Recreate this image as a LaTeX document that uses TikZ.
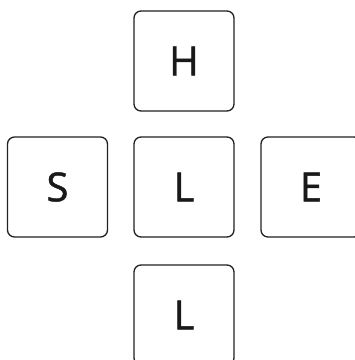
\documentclass[tikz,border=0pt]{standalone}
\usepackage{fontspec}
\newfontfamily\keyfont{Open Sans}[FakeBold=1.2]
\begin{document}
\begin{tikzpicture}[x=1pt,y=-1pt,
  keybox/.style={draw=black!87, line width=1.3pt, rounded corners=7pt,
    minimum width=100pt, minimum height=100pt, inner sep=0pt,
    font=\keyfont\fontsize{40}{40}\selectfont, text=black!90}]
\useasboundingbox (0,0) rectangle (355,360);
\clip (0,0) rectangle (355,360);
\node[keybox] (h) at (184,61) {H};
\node[keybox] (s) at (57.5,187) {S};
\node[keybox] (l) at (184,187) {L};
\node[keybox] (e) at (311,187) {E};
\node[keybox] (b) at (184,315) {L};
\end{tikzpicture}
\end{document}
